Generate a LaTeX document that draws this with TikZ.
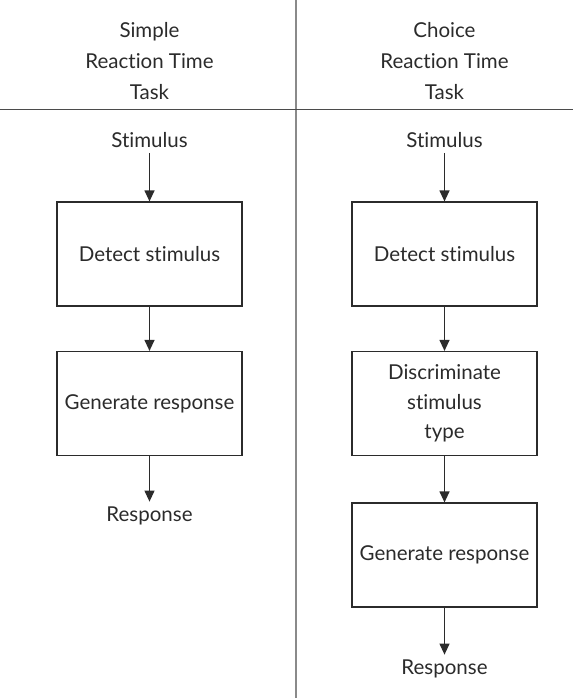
\documentclass[tikz,border=0pt]{standalone}
\usepackage{fontspec}
\setmainfont{Lato}[Ligatures=NoCommon]
\usetikzlibrary{arrows.meta}
\definecolor{ink}{HTML}{2B2B2B}
\definecolor{divider}{HTML}{8A8A8A}
\begin{document}
\begin{tikzpicture}[x=1pt,y=-1pt,
  every node/.style={text=ink, align=center},
  txt/.style={font=\fontsize{20.5}{30}\selectfont, inner sep=5pt, anchor=base},
  head/.style={font=\fontsize{20.5}{31}\selectfont, inner sep=0pt},
  stage/.style={draw=ink, line width=1.2pt, minimum width=185pt, minimum height=104pt,
    inner sep=0pt, font=\fontsize{20.5}{29.5}\selectfont},
  flow/.style={draw=ink, line width=1.2pt, -{Triangle[length=11pt,width=10pt]}},
  sep/.style={draw=divider, line width=1.5pt}]
\useasboundingbox (0,0) rectangle (573,698);

% column divider and header rule
\coordinate (dtop) at (296,0);
\coordinate (dbot) at (296,698);
\coordinate (hl) at (0,109.5);
\coordinate (hr) at (573,109.5);
\draw[sep] (dtop) -- (dbot);
\draw[sep, draw=ink!85] (hl) -- (hr);

% column headers
\node[head] (hA) at (149.5,61) {Simple\\Reaction Time\\Task};
\node[head] (hB) at (444.5,61) {Choice\\Reaction Time\\Task};

% simple reaction time
\node[txt] (sA) at (149.5,147.5) {Stimulus};
\node[stage] (dA) at (149.5,254) {Detect stimulus};
\node[stage] (gA) at (149.5,403.5) {Generate response};
\node[txt] (rA) at (149.5,521.5) {Response};
\draw[flow] (sA) -- (dA);
\draw[flow] (dA) -- (gA);
\draw[flow] (gA) -- (rA);

% choice reaction time
\node[txt] (sB) at (444.5,147.5) {Stimulus};
\node[stage] (dB) at (444.5,254) {Detect stimulus};
\node[stage] (cB) at (444.5,403.5) {Discriminate\\stimulus\\type};
\node[stage] (gB) at (444.5,555) {Generate response};
\node[txt] (rB) at (444.5,674.5) {Response};
\draw[flow] (sB) -- (dB);
\draw[flow] (dB) -- (cB);
\draw[flow] (cB) -- (gB);
\draw[flow] (gB) -- (rB);
\end{tikzpicture}
\end{document}
